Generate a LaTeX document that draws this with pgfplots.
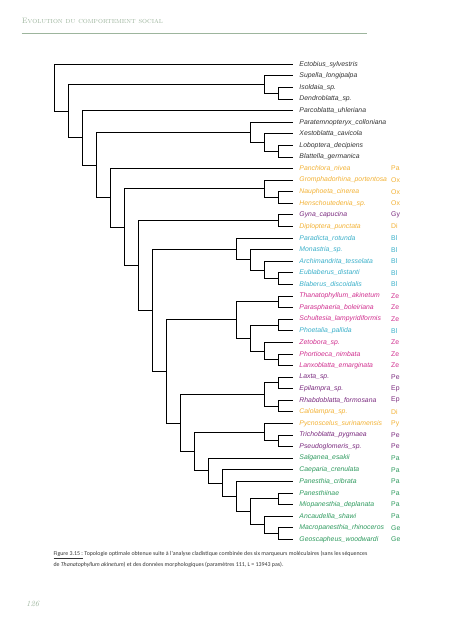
\documentclass[border=0pt]{standalone}
\usepackage{fontspec}
\usepackage{pgfplots}
\pgfplotsset{compat=1.18}
\newfontfamily\lab{Liberation Sans}
\newfontfamily\capf{Carlito}
\definecolor{hdr}{HTML}{9DB59D}
\definecolor{cblk}{HTML}{333333}
\definecolor{corg}{HTML}{F2B134}
\definecolor{cpur}{HTML}{7A2A7E}
\definecolor{ccya}{HTML}{3AAFC9}
\definecolor{cmag}{HTML}{D02E8E}
\definecolor{cgrn}{HTML}{2E9A5E}
\newcommand{\leaf}[4]{\node[anchor=west,inner sep=0pt,text=#3,font=\lab\fontsize{6.85}{7}\selectfont\itshape] at (axis cs:17.47,#1) {#2};
 \node[anchor=west,inner sep=0pt,text=#3,font=\lab\fontsize{6.85}{7}\selectfont] at (axis cs:24.02,#1) {#4};}
\newcommand{\br}[5]{\addplot[black,line width=0.85pt] coordinates {(#2,#3) (#1,#3) (#1,#5) (#4,#5)};}
\begin{document}
\begin{tikzpicture}
\path[use as bounding box] (0,0) rectangle (453pt,-640pt);
\begin{axis}[at={(54.7pt,-64.3pt)}, anchor=north west, scale only axis,
  width=238pt, height=475pt, xmin=0, xmax=17, ymin=1, ymax=42, y dir=reverse,
  axis lines=none, clip=false, xtick=\empty, ytick=\empty]
% brackets: node x, child1 x, child1 y, child2 x, child2 y
\br{16}{17}{3}{17}{4}
\br{15}{17}{2}{16}{3.5}
\br{16}{17}{8}{17}{9}
\br{15}{17}{7}{16}{8.5}
\br{14}{17}{6}{15}{7.75}
\br{16}{17}{12}{17}{13}
\br{15}{17}{11}{16}{12.5}
\br{16}{17}{14}{17}{15}
\br{16}{17}{19}{17}{20}
\br{15}{17}{18}{16}{19.5}
\br{14}{17}{17}{15}{18.75}
\br{13}{17}{16}{14}{17.875}
\br{16}{17}{21}{17}{22}
\br{16}{17}{23}{17}{24}
\br{16}{17}{26}{17}{27}
\br{15}{17}{25}{16}{26.5}
\br{14}{16}{23.5}{15}{25.75}
\br{13}{16}{21.5}{14}{24.625}
\br{16}{17}{28}{17}{29}
\br{16}{17}{30}{17}{31}
\br{15}{16}{28.5}{16}{30.5}
\br{16}{17}{33}{17}{34}
\br{15}{17}{32}{16}{33.5}
\br{16}{17}{38}{17}{39}
\br{16}{17}{41}{17}{42}
\br{15}{17}{40}{16}{41.5}
\br{14}{16}{38.5}{15}{40.75}
\br{13}{17}{37}{14}{39.625}
\br{12}{17}{36}{13}{38.3125}
\br{11}{17}{35}{12}{37.15625}
\br{10}{15}{32.75}{11}{36.078125}
\br{9}{15}{29.5}{10}{34.4140625}
\br{8}{13}{23.0625}{9}{31.95703}
\br{7}{13}{16.9375}{8}{27.50977}
\br{6}{16}{14.5}{7}{22.22363}
\br{5}{15}{11.75}{6}{18.36182}
\br{4}{17}{10}{5}{15.05591}
\br{3}{14}{6.875}{4}{12.52795}
\br{2}{17}{5}{3}{9.70148}
\br{1}{15}{2.75}{2}{7.35074}
\br{0}{17}{1}{1}{5.05037}
% labels
\leaf{1}{Ectobius\_sylvestris}{cblk}{}
\leaf{2}{Supella\_longipalpa}{cblk}{}
\leaf{3}{Isoldaia\_sp.}{cblk}{}
\leaf{4}{Dendroblatta\_sp.}{cblk}{}
\leaf{5}{Parcoblatta\_uhleriana}{cblk}{}
\leaf{6}{Paratemnopteryx\_colloniana}{cblk}{}
\leaf{7}{Xestoblatta\_cavicola}{cblk}{}
\leaf{8}{Loboptera\_decipiens}{cblk}{}
\leaf{9}{Blattella\_germanica}{cblk}{}
\leaf{10}{Panchlora\_nivea}{corg}{Pa}
\leaf{11}{Gromphadorhina\_portentosa}{corg}{Ox}
\leaf{12}{Nauphoeta\_cinerea}{corg}{Ox}
\leaf{13}{Henschoutedenia\_sp.}{corg}{Ox}
\leaf{14}{Gyna\_capucina}{cpur}{Gy}
\leaf{15}{Diploptera\_punctata}{corg}{Di}
\leaf{16}{Paradicta\_rotunda}{ccya}{Bl}
\leaf{17}{Monastria\_sp.}{ccya}{Bl}
\leaf{18}{Archimandrita\_tesselata}{ccya}{Bl}
\leaf{19}{Eublaberus\_distanti}{ccya}{Bl}
\leaf{20}{Blaberus\_discoidalis}{ccya}{Bl}
\leaf{21}{Thanatophyllum\_akinetum}{cmag}{Ze}
\leaf{22}{Parasphaeria\_boleiriana}{cmag}{Ze}
\leaf{23}{Schultesia\_lampyridiformis}{cmag}{Ze}
\leaf{24}{Phoetalia\_pallida}{ccya}{Bl}
\leaf{25}{Zetobora\_sp.}{cmag}{Ze}
\leaf{26}{Phortioeca\_nimbata}{cmag}{Ze}
\leaf{27}{Lanxoblatta\_emarginata}{cmag}{Ze}
\leaf{28}{Laxta\_sp.}{cpur}{Pe}
\leaf{29}{Epilampra\_sp.}{cpur}{Ep}
\leaf{30}{Rhabdoblatta\_formosana}{cpur}{Ep}
\leaf{31}{Calolampra\_sp.}{corg}{Di}
\leaf{32}{Pycnoscelus\_surinamensis}{corg}{Py}
\leaf{33}{Trichoblatta\_pygmaea}{cpur}{Pe}
\leaf{34}{Pseudoglomeris\_sp.}{cpur}{Pe}
\leaf{35}{Salganea\_esakii}{cgrn}{Pa}
\leaf{36}{Caeparia\_crenulata}{cgrn}{Pa}
\leaf{37}{Panesthia\_cribrata}{cgrn}{Pa}
\leaf{38}{Panesthiinae}{cgrn}{Pa}
\leaf{39}{Miopanesthia\_deplanata}{cgrn}{Pa}
\leaf{40}{Ancaudellia\_shawi}{cgrn}{Pa}
\leaf{41}{Macropanesthia\_rhinoceros}{cgrn}{Ge}
\leaf{42}{Geoscapheus\_woodwardi}{cgrn}{Ge}
\end{axis}
% page furniture
\node[anchor=base west,inner sep=0pt,text=hdr,font=\fontsize{7.8}{8}\selectfont\scshape] at (21.7pt,-23.3pt) {Evolution du comportement social};
\draw[hdr,line width=0.8pt] (21.7pt,-33.3pt) -- (366.7pt,-33.3pt);
\node[anchor=base west,inner sep=0pt,font=\capf\fontsize{5.9}{6}\selectfont,text=black!80] at (53.3pt,-555.8pt) {\underline{Figure 3.15 :} Topologie optimale obtenue suite à l'analyse cladistique combinée des six marqueurs moléculaires (sans les séquences};
\node[anchor=base west,inner sep=0pt,font=\capf\fontsize{5.9}{6}\selectfont,text=black!80] at (53.3pt,-566.8pt) {de \textit{Thanatophyllum akinetum}) et des données morphologiques (paramètres 111, L = 13943 pas).};
\node[anchor=base west,inner sep=0pt,text=hdr,font=\fontsize{8}{9}\selectfont\itshape] at (26pt,-606pt) {126};
\end{tikzpicture}
\end{document}
